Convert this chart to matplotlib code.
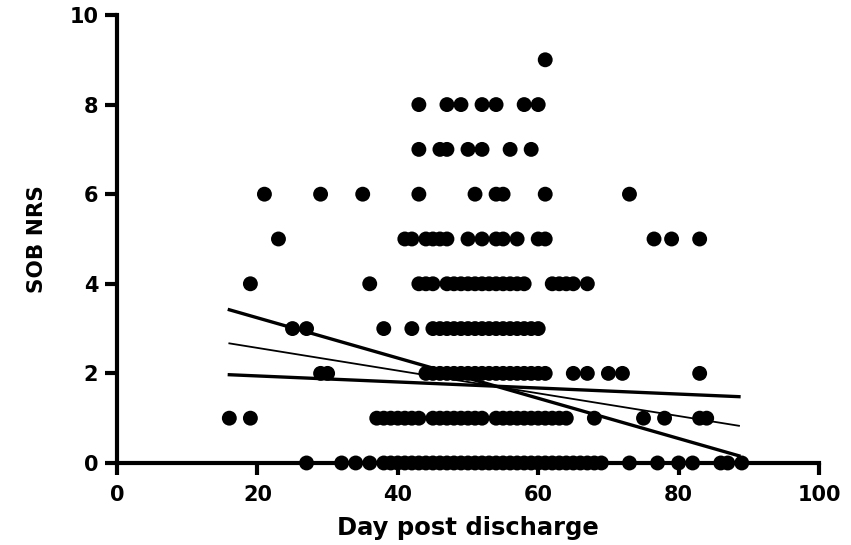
import numpy as np
import matplotlib
matplotlib.use("Agg")
import matplotlib.pyplot as plt

plt.rcParams['font.family'] = ['DejaVu Sans']
plt.rcParams['font.weight'] = 'bold'

# days post discharge, grouped by SOB NRS score
days_sob0 = [27, 32, 34, 36, 38, 39, 40, 41, 42, 43, 44, 45, 46, 47, 48, 49, 50, 51, 52, 53,
             54, 55, 56, 57, 58, 59, 60, 61, 62, 63, 64, 65, 66, 67, 68, 69, 73, 77, 80, 82,
             86, 87, 89]
days_sob1 = [16, 19, 37, 38, 39, 40, 41, 42, 43, 45, 46, 47, 48, 49, 50, 51, 52, 54, 55, 56,
             57, 58, 59, 60, 61, 62, 63, 64, 68, 75, 78, 83, 84]
days_sob2 = [29, 30, 44, 45, 46, 47, 48, 49, 50, 51, 52, 53, 54, 55, 56, 57, 58, 59, 60, 61,
             65, 67, 70, 72, 83]
days_sob3 = [25, 27, 38, 42, 45, 46, 47, 48, 49, 50, 51, 52, 53, 54, 55, 56, 57, 58, 59, 60]
days_sob4 = [19, 36, 43, 44, 45, 47, 48, 49, 50, 51, 52, 53, 54, 55, 56, 57, 58, 62, 63, 64,
             65, 67]
days_sob5 = [23, 41, 42, 44, 45, 46, 47, 50, 52, 54, 55, 57, 60, 61, 76.5, 79, 83]
days_sob6 = [21, 29, 35, 43, 51, 54, 55, 61, 73]
days_sob7 = [43, 46, 47, 50, 52, 56, 59]
days_sob8 = [43, 47, 49, 52, 54, 58, 60]
days_sob9 = [61]

# linear fit and its confidence band (end points of each line)
fit_x = [16, 88.6]
fit_y = [2.67, 0.83]
band_steep_y = [3.42, 0.16]
band_flat_y = [1.97, 1.48]

groups = [days_sob0, days_sob1, days_sob2, days_sob3, days_sob4,
          days_sob5, days_sob6, days_sob7, days_sob8, days_sob9]
x = np.concatenate([np.asarray(g, dtype=float) for g in groups])
y = np.concatenate([np.full(len(g), score) for score, g in enumerate(groups)])

fig = plt.figure(figsize=(8.51, 5.45), dpi=100)
ax = fig.add_axes([0.1375, 0.1505, 0.8249, 0.822])

ax.scatter(x, y, s=115, color='black', edgecolors='none', zorder=3, clip_on=False)
ax.plot(fit_x, fit_y, color='black', lw=1.3, zorder=4)
ax.plot(fit_x, band_steep_y, color='black', lw=2.4, zorder=4)
ax.plot(fit_x, band_flat_y, color='black', lw=2.4, zorder=4)

ax.set_xlim(0, 100)
ax.set_ylim(0, 10)
ax.set_xticks([0, 20, 40, 60, 80, 100])
ax.set_yticks([0, 2, 4, 6, 8, 10])

for side in ['top', 'right']:
    ax.spines[side].set_visible(False)
for side in ['left', 'bottom']:
    ax.spines[side].set_linewidth(3)
ax.tick_params(width=3, length=8.5, labelsize=15)
ax.tick_params(axis='x', pad=7)
ax.tick_params(axis='y', pad=5)
for lbl in ax.get_xticklabels() + ax.get_yticklabels():
    lbl.set_fontweight('bold')

ax.set_xlabel('Day post discharge', fontsize=17.5, fontweight='bold', labelpad=8)
ax.set_ylabel('SOB NRS', fontsize=15.5, fontweight='bold', labelpad=16)

fig.savefig('out.png', dpi=100)
